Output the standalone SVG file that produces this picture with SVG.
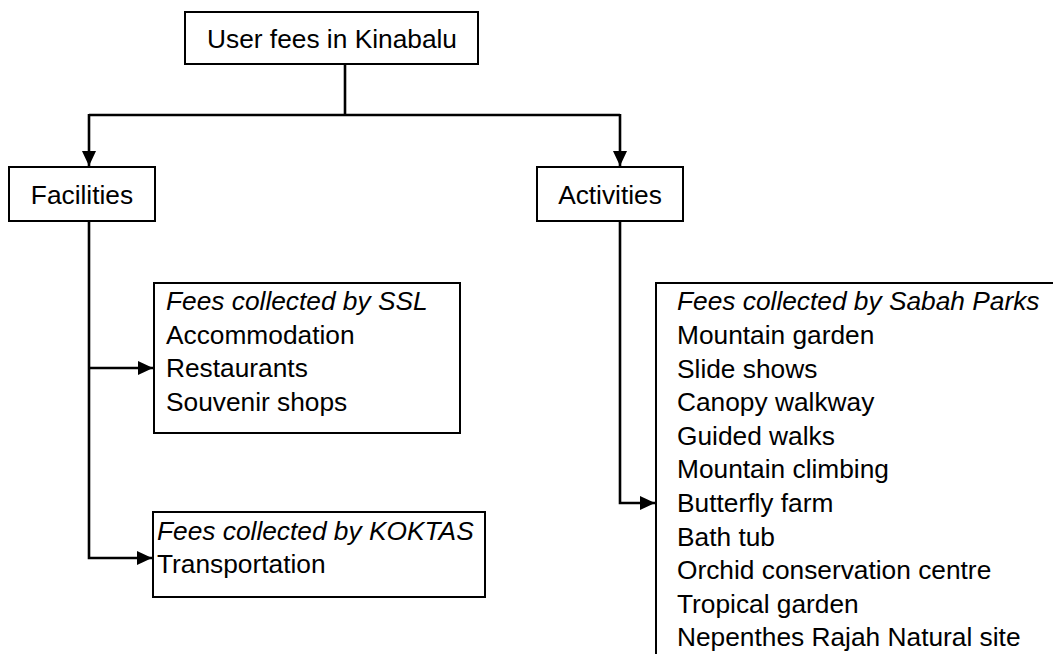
<svg xmlns="http://www.w3.org/2000/svg" width="1053" height="654" viewBox="0 0 1053 654">
<style>
.box{fill:#fff;stroke:#000;stroke-width:2}
.t{font-family:"Liberation Sans",Arial,sans-serif;font-size:26.3px;fill:#000}
.c{text-anchor:middle}
.i{font-style:italic}
.conn{fill:none;stroke:#000;stroke-width:2.6}
</style>
<defs>
<marker id="ah" markerUnits="userSpaceOnUse" markerWidth="16" markerHeight="14" refX="15" refY="7" orient="auto">
<path d="M0,0 L15,7 L0,14 z" fill="#000"/>
</marker>
</defs>
<rect width="1053" height="654" fill="#fff"/>
<g id="connectors">
<path class="conn" d="M345,64 V115"/>
<path class="conn" d="M89,115 H620"/>
<path class="conn" d="M89,114 V166" marker-end="url(#ah)"/>
<path class="conn" d="M620,114 V166" marker-end="url(#ah)"/>
<path class="conn" d="M89,221 V558 H152" marker-end="url(#ah)"/>
<path class="conn" d="M89,368 H153" marker-end="url(#ah)"/>
<path class="conn" d="M620,221 V503 H655" marker-end="url(#ah)"/>
</g>
<g id="root">
<rect class="box" x="185" y="12" width="293" height="52"/>
<text class="t c" x="332" y="47.5">User fees in Kinabalu</text>
</g>
<g id="facilities">
<rect class="box" x="9" y="167" width="146" height="54"/>
<text class="t c" x="82" y="203.5">Facilities</text>
</g>
<g id="activities">
<rect class="box" x="537" y="167" width="146" height="54"/>
<text class="t c" x="610" y="203.5">Activities</text>
</g>
<g id="ssl">
<rect class="box" x="154" y="283" width="306" height="150"/>
<text class="t">
<tspan class="i" x="166" y="310">Fees collected by SSL</tspan>
<tspan x="166" y="343.6">Accommodation</tspan>
<tspan x="166" y="377.2">Restaurants</tspan>
<tspan x="166" y="410.8">Souvenir shops</tspan>
</text>
</g>
<g id="koktas">
<rect class="box" x="153" y="512" width="332" height="85"/>
<text class="t">
<tspan class="i" x="157" y="539.5">Fees collected by KOKTAS</tspan>
<tspan x="157" y="573">Transportation</tspan>
</text>
</g>
<g id="sabah">
<rect class="box" x="656" y="283" width="420" height="420"/>
<text class="t">
<tspan class="i" x="677" y="310.4">Fees collected by Sabah Parks</tspan>
<tspan x="677" y="344">Mountain garden</tspan>
<tspan x="677" y="377.6">Slide shows</tspan>
<tspan x="677" y="411.2">Canopy walkway</tspan>
<tspan x="677" y="444.8">Guided walks</tspan>
<tspan x="677" y="478.4">Mountain climbing</tspan>
<tspan x="677" y="512">Butterfly farm</tspan>
<tspan x="677" y="545.6">Bath tub</tspan>
<tspan x="677" y="579.2">Orchid conservation centre</tspan>
<tspan x="677" y="612.8">Tropical garden</tspan>
<tspan x="677" y="646.4">Nepenthes Rajah Natural site</tspan>
</text>
</g>
</svg>
